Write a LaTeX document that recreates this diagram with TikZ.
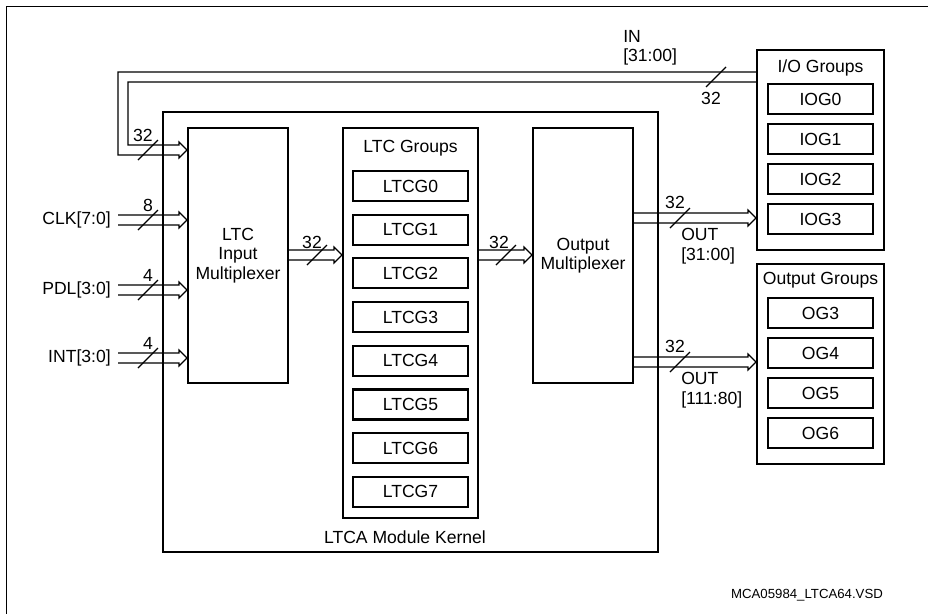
\documentclass[tikz,border=0pt]{standalone}
\usepackage{fontspec}
\setmainfont{Liberation Sans}
\newcommand{\lblfont}{\fontsize{12.5}{13.8}\selectfont}
\usetikzlibrary{positioning,calc}
\tikzset{
  pics/wmark/.style={code={\draw[line width=0.8pt] (-10,10) -- (10,-10);}}
}

\begin{document}
\begin{tikzpicture}[
  x=0.025cm, y=-0.025cm,
  blk/.style={draw,line width=1.5pt,inner sep=0pt,align=center,font=\lblfont},
  cell/.style={blk,minimum width=2.875cm,minimum height=0.75cm},
  iocell/.style={blk,minimum width=2.625cm,minimum height=0.75cm},
  txt/.style={inner sep=0pt,align=left,font=\lblfont},
  busline/.style={line width=0.85pt,line join=miter},
  bus/.style={busline,to path={let \p1=(\tikztostart), \p2=(\tikztotarget) in
    (\x1,\y1+3.557pt) -- (\x2-5.69pt,\y1+3.557pt) -- (\x2-5.69pt,\y1+5.69pt) -- (\x2,\y1)
    -- (\x2-5.69pt,\y1-5.69pt) -- (\x2-5.69pt,\y1-3.557pt) -- (\x1,\y1-3.557pt)}}
]
  \useasboundingbox (0,0) rectangle (928,614);
  % Frame
  \draw[line width=0.8pt] (928,6.5) -- (6.5,6.5) -- (6.5,614);
  % Kernel
  \node[blk,minimum width=12.375cm,minimum height=10.99cm] (kernel) at (410.5,332.25) {};
  \node[txt] (kernlbl) at (405,537) {LTCA Module Kernel};
  % Multiplexers
  \node[blk,minimum width=2.5cm,minimum height=6.375cm] (imux) at (238,255.5) {LTC\\Input\\Multiplexer};
  \node[blk,minimum width=2.5cm,minimum height=6.375cm] (omux) at (583,255.5) {Output\\Multiplexer};
  % LTC groups
  \node[blk,minimum width=3.375cm,minimum height=9.75cm] (ltcg) at (410.5,323) {};
  \node[txt] (ltcgt) at (410.5,148) {LTC Groups};
  \node[cell] (g0) at (410.5,186) {LTCG0};
  \node[cell] (g1) at (410.5,229.7) {LTCG1};
  \node[cell] (g2) at (410.5,273.4) {LTCG2};
  \node[cell] (g3) at (410.5,317.1) {LTCG3};
  \node[cell] (g4) at (410.5,360.8) {LTCG4};
  \node[cell] (g5) at (410.5,404.5) {LTCG5};
  \node[cell] (g6) at (410.5,448.2) {LTCG6};
  \node[cell] (g7) at (410.5,491.9) {LTCG7};
  % I/O groups
  \node[blk,minimum width=3.175cm,minimum height=5cm] (iog) at (820.5,150) {};
  \node[txt] (iogt) at (820.5,68) {I/O Groups};
  \node[iocell] (iog0) at (820.5,99) {IOG0};
  \node[iocell] (iog1) at (820.5,139) {IOG1};
  \node[iocell] (iog2) at (820.5,179) {IOG2};
  \node[iocell] (iog3) at (820.5,219) {IOG3};
  % Output groups
  \node[blk,minimum width=3.175cm,minimum height=5cm] (og) at (820.5,364) {};
  \node[txt] (ogt) at (820.5,280) {Output Groups};
  \node[iocell] (og3) at (820.5,313) {OG3};
  \node[iocell] (og4) at (820.5,353) {OG4};
  \node[iocell] (og5) at (820.5,393) {OG5};
  \node[iocell] (og6) at (820.5,433) {OG6};
  % Inputs
  \node[txt,anchor=east] (clk) at (111,220) {CLK[7:0]};
  \node[txt,anchor=east] (pdl) at (111,290) {PDL[3:0]};
  \node[txt,anchor=east] (int) at (111,358) {INT[3:0]};
  \coordinate (clkin) at (118,220);
  \coordinate (pdlin) at (118,290);
  \coordinate (intin) at (118,358);
  \coordinate (inturn) at (123,77);
  \coordinate (indown) at (123,150);
  % Buses
  \draw[busline] (iog.west |- 0,72) -- ($(inturn)+(-5,-5)$) -- ($(indown)+(-5,5)$)
    -- ($(imux.west |- indown)+(-8,5)$) -- ++(0,3) -- (imux.west |- indown) -- ++(-8,-8) -- ++(0,3)
    -- ($(indown)+(5,-5)$) -- ($(inturn)+(5,5)$) -- (iog.west |- 0,82);
  \draw[bus] (clkin) to (imux.west |- clkin);
  \draw[bus] (pdlin) to (imux.west |- pdlin);
  \draw[bus] (intin) to (imux.west |- intin);
  \draw[bus] (imux.east |- 0,255) to (ltcg.west |- 0,255);
  \draw[bus] (ltcg.east |- 0,255) to (omux.west |- 0,255);
  \draw[bus] (omux.east |- 0,218) to (iog.west |- 0,218);
  \draw[bus] (omux.east |- 0,362) to (og.west |- 0,362);
  % Bus widths
  \pic at (148,150) {wmark};
  \node[txt] (w1) at (143,135) {32};
  \pic at (148,220) {wmark};
  \node[txt] (w2) at (148,205) {8};
  \pic at (148,290) {wmark};
  \node[txt] (w3) at (148,275) {4};
  \pic at (148,358) {wmark};
  \node[txt] (w4) at (148,343) {4};
  \pic at (317,255) {wmark};
  \node[txt] (w5) at (312,242) {32};
  \pic at (506,255) {wmark};
  \node[txt] (w6) at (499,242) {32};
  \pic at (680,218) {wmark};
  \node[txt] (w7) at (675,202) {32};
  \pic at (680,362) {wmark};
  \node[txt] (w8) at (675,346) {32};
  \pic at (716,77) {wmark};
  \node[txt] (w9) at (711,98) {32};
  % Bus names
  \node[txt,anchor=west] (inlbl) at (623,48) {IN\\{[31:00]}};
  \node[txt,anchor=west] (out1) at (681,246) {OUT\\{[31:00]}};
  \node[txt,anchor=west] (out2) at (681,390) {OUT\\{[111:80]}};
  % File name
  \node[inner sep=0pt,font=\fontsize{9.4}{11}\selectfont] (fname) at (807,595) {MCA05984\_LTCA64.VSD};
\end{tikzpicture}
\end{document}
